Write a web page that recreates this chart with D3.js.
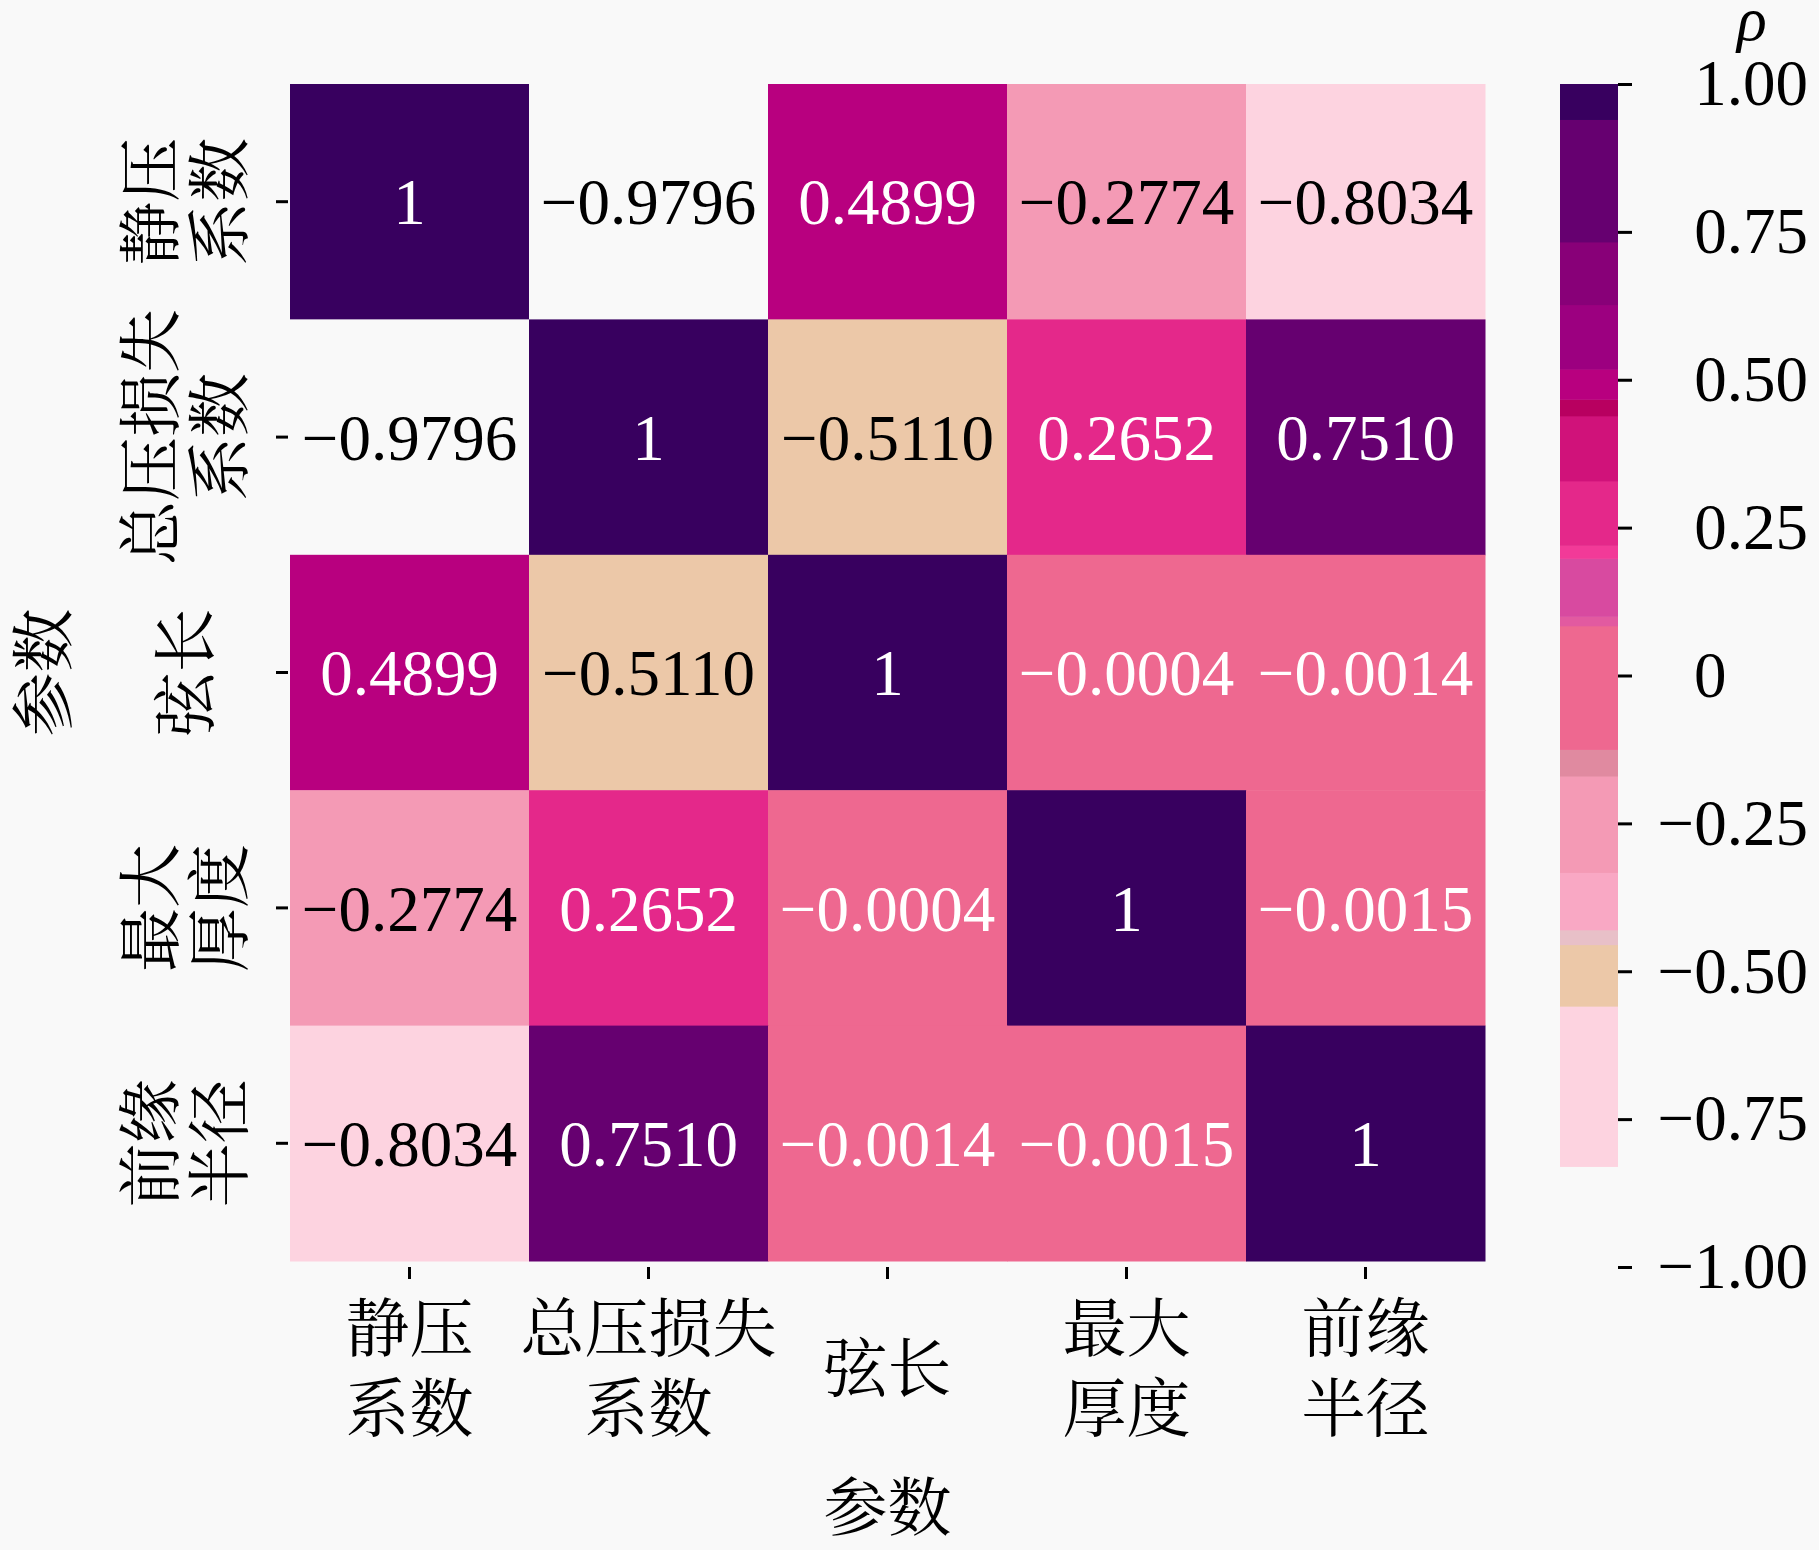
<!DOCTYPE html>
<html>
<head>
<meta charset="utf-8">
<script src="https://cdn.jsdelivr.net/npm/d3@7"></script>
<style>
  body { margin: 0; background: #f9f9f9; }
  text { font-family: "Liberation Serif", "Noto Serif CJK SC", "Noto Sans CJK SC", serif; }
</style>
</head>
<body>
<div id="heatmap"></div>
<script>
// parameters (rows and columns are the same)
const params = ["静压系数", "总压损失系数", "弦长", "最大厚度", "前缘半径"];
const paramLines = [["静压", "系数"], ["总压损失", "系数"], ["弦长"], ["最大", "厚度"], ["前缘", "半径"]];

// correlation matrix, row by row
const rho = [
    [1, -0.9796, 0.4899, -0.2774, -0.8034],
    [-0.9796, 1, -0.5110, 0.2652, 0.7510],
    [0.4899, -0.5110, 1, -0.0004, -0.0014],
    [-0.2774, 0.2652, -0.0004, 1, -0.0015],
    [-0.8034, 0.7510, -0.0014, -0.0015, 1]
];

// discrete colour bins (values below -0.83 stay blank)
const binEdges = [-0.83, -0.559, -0.455, -0.43, -0.333, -0.17, -0.125, 0.084, 0.1, 0.198, 0.22, 0.329, 0.439, 0.467, 0.518, 0.627, 0.733, 0.94];
const binColors = ["#f9f9f9", "#fdd3e0", "#ecc8a8", "#e8c0c8", "#f9a8c4", "#f49ab5", "#e08aa0", "#ee6890", "#e25aa0", "#d84aa0", "#f23a98", "#e4288a", "#d0127a", "#b80060", "#b8007f", "#9c0080", "#880078", "#660070", "#38005f"];
const cbarTicks = [-1, -0.75, -0.5, -0.25, 0, 0.25, 0.5, 0.75, 1];

const W = 1819, H = 1550;
const mLeft = 290, mRight = 1485, mTop = 84, mBottom = 1261;

const svg = d3.select("#heatmap")
    .append("svg")
    .attr("width", W)
    .attr("height", H)
    .style("background", "#f9f9f9");

const color = d3.scaleThreshold().domain(binEdges).range(binColors);

const x = d3.scaleBand().domain(params).range([mLeft, mRight]);
const y = d3.scaleBand().domain(params).range([mTop, mBottom]);

const cells = [];
rho.forEach((row, i) => row.forEach((v, j) => cells.push({ r: params[i], c: params[j], v: v })));

const fmt = d3.format(".4f");

// cells
svg.append("g")
    .selectAll("rect")
    .data(cells)
    .enter()
    .append("rect")
    .attr("x", d => x(d.c))
    .attr("y", d => y(d.r))
    .attr("width", x.bandwidth() + 0.5)
    .attr("height", y.bandwidth() + 0.5)
    .style("fill", d => color(d.v));

// annotations
svg.append("g")
    .selectAll("text")
    .data(cells)
    .enter()
    .append("text")
    .attr("x", d => x(d.c) + x.bandwidth() / 2)
    .attr("y", d => y(d.r) + y.bandwidth() / 2)
    .attr("text-anchor", "middle")
    .attr("dy", "0.35em")
    .style("font-size", "65px")
    .style("fill", d => d3.hsl(color(d.v)).l < 0.72 ? "#ffffff" : "#000000")
    .text(d => d.v === 1 ? "1" : fmt(d.v));

// x axis ticks
const xAxis = svg.append("g")
    .attr("transform", "translate(0," + (mBottom + 6) + ")")
    .call(d3.axisBottom(x).tickSize(12).tickFormat(""));
xAxis.select(".domain").remove();
xAxis.selectAll(".tick line").attr("stroke", "#000").attr("stroke-width", 3);

// y axis ticks
const yAxis = svg.append("g")
    .attr("transform", "translate(" + (mLeft - 2) + ",0)")
    .call(d3.axisLeft(y).tickSize(12).tickFormat(""));
yAxis.select(".domain").remove();
yAxis.selectAll(".tick line").attr("stroke", "#000").attr("stroke-width", 3);

// x tick labels (two lines)
const lineGap = 80;
params.forEach((p, i) => {
    const lines = paramLines[i];
    const cx = x(p) + x.bandwidth() / 2;
    const y0 = 1369 - (lines.length - 1) * lineGap / 2;
    lines.forEach((t, k) => {
        svg.append("text")
            .attr("x", cx)
            .attr("y", y0 + k * lineGap)
            .attr("text-anchor", "middle")
            .attr("dominant-baseline", "central")
            .style("font-size", "64px")
            .text(t);
    });
});

// y tick labels (rotated, two lines)
const yGap = 69;
params.forEach((p, i) => {
    const lines = paramLines[i];
    const cy = y(p) + y.bandwidth() / 2;
    const x0 = 186 - (lines.length - 1) * yGap / 2;
    lines.forEach((t, k) => {
        svg.append("text")
            .attr("transform", "translate(" + (x0 + k * yGap) + "," + cy + ") rotate(-90)")
            .attr("text-anchor", "middle")
            .attr("dominant-baseline", "central")
            .style("font-size", "64px")
            .text(t);
    });
});

// axis titles
svg.append("text")
    .attr("x", (mLeft + mRight) / 2)
    .attr("y", 1508)
    .attr("text-anchor", "middle")
    .attr("dominant-baseline", "central")
    .style("font-size", "64px")
    .text("参数");

svg.append("text")
    .attr("transform", "translate(44," + (mTop + mBottom) / 2 + ") rotate(-90)")
    .attr("text-anchor", "middle")
    .attr("dominant-baseline", "central")
    .style("font-size", "64px")
    .text("参数");

// colour bar
const cbX = 1560, cbW = 58;
const cbScale = d3.scaleLinear().domain([-1, 1]).range([1267, 84]);
const bins = binColors.slice(1).map((c, i) => ({
    lo: binEdges[i],
    hi: i + 1 < binEdges.length ? binEdges[i + 1] : 1,
    c: c
}));

svg.append("g")
    .selectAll("rect")
    .data(bins)
    .enter()
    .append("rect")
    .attr("x", cbX)
    .attr("y", d => cbScale(d.hi))
    .attr("width", cbW)
    .attr("height", d => cbScale(d.lo) - cbScale(d.hi) + 0.5)
    .style("fill", d => d.c);

const cbAxis = svg.append("g")
    .attr("transform", "translate(" + (cbX + cbW) + ",0)")
    .call(d3.axisRight(cbScale)
        .tickValues(cbarTicks)
        .tickSize(14)
        .tickFormat(d => d === 0 ? "0" : d3.format(".2f")(d)));
cbAxis.select(".domain").remove();
cbAxis.selectAll(".tick line").attr("stroke", "#000").attr("stroke-width", 3);
cbAxis.selectAll(".tick text")
    .attr("x", 190)
    .attr("text-anchor", "end")
    .style("font-size", "65px")
    .style("font-family", "'Liberation Serif', serif")
    .style("fill", "#000");
// the 0 label lines up with the first digit of the others
cbAxis.selectAll(".tick text").filter(d => d === 0)
    .attr("x", 76)
    .attr("text-anchor", "start");

// colour bar title
svg.append("text")
    .attr("x", 1752)
    .attr("y", 6)
    .attr("dy", "0.55em")
    .attr("text-anchor", "middle")
    .style("font-size", "62px")
    .style("font-style", "italic")
    .text("ρ");
</script>
</body>
</html>
